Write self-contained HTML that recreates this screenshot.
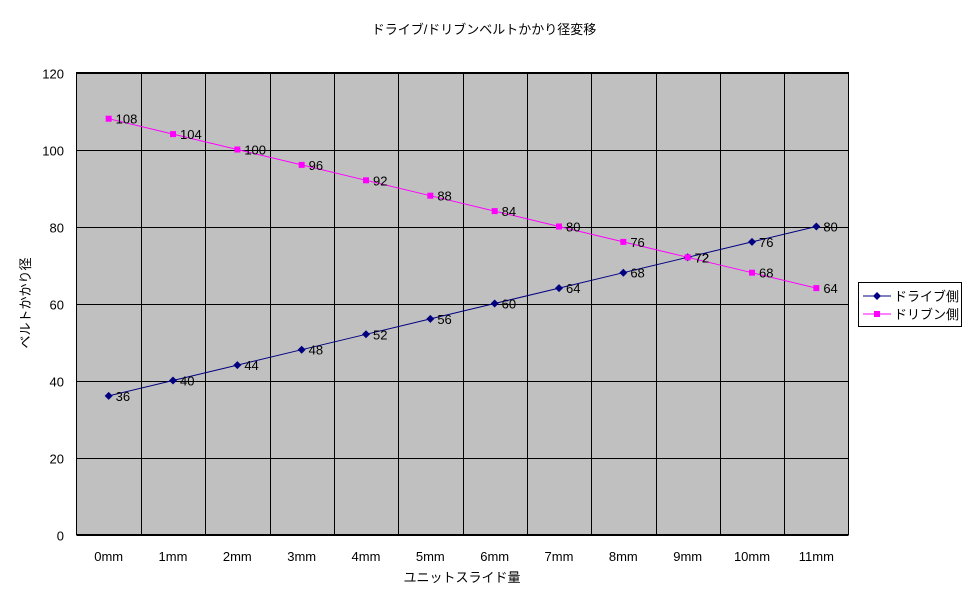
<!DOCTYPE html>
<html><head><meta charset="utf-8"><style>
body{margin:0;background:#fff;}
svg text{font-family:"Liberation Sans","Noto Sans CJK JP",sans-serif;font-size:13px;fill:#000;}
</style></head><body>
<svg id="chart" width="970" height="604" xmlns="http://www.w3.org/2000/svg">
<text x="484" y="34" text-anchor="middle">ドライブ/ドリブンベルトかかり径変移</text>
<rect x="76.5" y="72.5" width="772" height="462" fill="#c0c0c0" stroke="none"/>
<g id="grid"></g>
<rect x="76.5" y="72.5" width="772" height="462" fill="none" stroke="#000"/>
<g id="series"></g>
<text transform="translate(30,303) rotate(-90)" text-anchor="middle">ベルトかかり径</text>
<text x="462" y="582" text-anchor="middle">ユニットスライド量</text>
<g>
<rect x="858.5" y="282.5" width="103" height="44" fill="#fff" stroke="#000"/>
<line x1="863" y1="296" x2="891" y2="296" stroke="#000080"/>
<path d="M877 292 L881 296 L877 300 L873 296Z" fill="#000080"/>
<text x="894" y="301">ドライブ側</text>
<line x1="863" y1="314" x2="891" y2="314" stroke="#ff00ff"/>
<rect x="874" y="311" width="6" height="6" fill="#ff00ff"/>
<text x="894" y="319">ドリブン側</text>
</g>
</svg>
<script>
const categories=["0mm","1mm","2mm","3mm","4mm","5mm","6mm","7mm","8mm","9mm","10mm","11mm"];
const driveValues=[36,40,44,48,52,56,60,64,68,72,76,80];
const drivenValues=[108,104,100,96,92,88,84,80,76,72,68,64];
const yTicks=[0,20,40,60,80,100,120];
const L=76.5,R=848.5,T=72.5,B=534.5,yMax=120;
const bw=(R-L)/categories.length;
const xPos=i=>L+bw*(i+0.5);
const yPos=v=>B-(v/yMax)*(B-T);
const NS="http://www.w3.org/2000/svg";
const grid=document.getElementById('grid'),ser=document.getElementById('series');
function mk(tag,attrs,parent){const e=document.createElementNS(NS,tag);for(const k in attrs)e.setAttribute(k,attrs[k]);parent.appendChild(e);return e;}
yTicks.forEach(v=>{
 const y=Math.round(yPos(v))+0.5;
 const l=mk('line',{x1:L,x2:R,y1:y,y2:y,stroke:'#000'},grid);
 
 
 const t=mk('text',{x:64,y:y+5,'text-anchor':'end'},grid);t.textContent=v;
 
 
});
categories.forEach((c,i)=>{
 if(i>0){const x=Math.round(L+bw*i)+0.5;
  const l=mk('line',{x1:x,x2:x,y1:T,y2:B,stroke:'#000'},grid);
  
  }
 const t=mk('text',{x:xPos(i),y:561,'text-anchor':'middle'},grid);t.textContent=c;
 
 
});
function drawSeries(vals,color,marker,name){
 const p=mk('polyline',{points:vals.map((v,i)=>xPos(i)+','+yPos(v)).join(' '),fill:'none',stroke:color},ser);
 
 
 vals.forEach((v,i)=>{
  const x=xPos(i),y=yPos(v);let m;
  if(marker==='d')m=mk('path',{d:`M${x} ${y-4}L${x+4} ${y}L${x} ${y+4}L${x-4} ${y}Z`,fill:color},ser);
  else m=mk('rect',{x:x-3,y:y-3,width:6,height:6,fill:color},ser);
  
  
  const t=mk('text',{x:x+7,y:y+5},ser);t.textContent=v;
  
  
 });
}
drawSeries(driveValues,'#000080','d','drive');
drawSeries(drivenValues,'#ff00ff','s','driven');
</script>
</body></html>
